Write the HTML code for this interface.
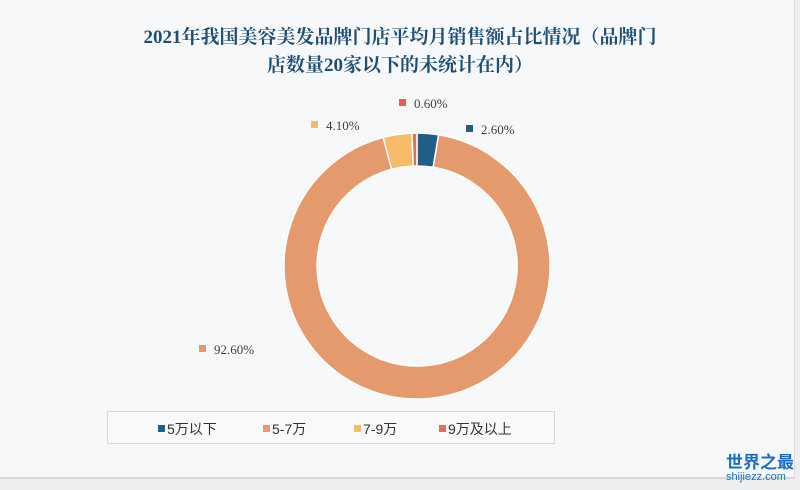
<!DOCTYPE html>
<html><head><meta charset="utf-8"><style>
body{margin:0;width:800px;height:490px;background:#eceef0;font-family:"Liberation Sans","Noto Sans CJK SC",sans-serif;overflow:hidden}
.card{position:absolute;left:0;top:0;width:794px;height:477px;background:#f7f8f9;border-right:1px solid #ddd;border-bottom:2px solid #d8d8d8}
.t{position:absolute;left:0;width:800px;text-align:center;font-family:"Liberation Serif","Noto Serif CJK SC",serif;font-weight:bold;font-size:19px;color:#1f4e79}
.lab{position:absolute;font-size:13px;color:#404040;font-family:"Liberation Serif","Noto Serif CJK SC",serif}
.sq{display:inline-block;width:7px;height:7px;margin-right:8px;vertical-align:2px}
.leg{position:absolute;left:107px;top:411px;width:446px;height:31px;border:1px solid #d8d8d8;background:#f9f9fa;font-size:14px;color:#333}
.leg span{position:absolute;top:7px}
</style></head><body>
<div class="card"></div>
<div class="t" style="top:22px">2021年我国美容美发品牌门店平均月销售额占比情况（品牌门</div>
<div class="t" style="top:50px">店数量20家以下的未统计在内）</div>
<svg width="800" height="490" style="position:absolute;left:0;top:0">
<g transform="translate(417,266)" stroke="#fff" stroke-width="1.5">
<path d="M0,-133 A133,133 0 0 1 21.6,-131.2 L16.2,-98.7 A100,100 0 0 0 0,-100Z" fill="#1f5f87"/>
<path d="M21.6,-131.2 A133,133 0 1 1 -33.8,-128.6 L-25.4,-96.7 A100,100 0 1 0 16.2,-98.7Z" fill="#e59a6e"/>
<path d="M-33.8,-128.6 A133,133 0 0 1 -5,-132.9 L-3.8,-99.9 A100,100 0 0 0 -25.4,-96.7Z" fill="#f5bb68"/>
<path d="M-5,-132.9 A133,133 0 0 1 0,-133 L0,-100 A100,100 0 0 0 -3.8,-99.9Z" fill="#e0705a"/>
</g>
</svg>
<div class="lab" style="left:399px;top:96px"><span class="sq" style="background:#e0605a"></span>0.60%</div>
<div class="lab" style="left:311px;top:118px"><span class="sq" style="background:#f5bb68"></span>4.10%</div>
<div class="lab" style="left:466px;top:122px"><span class="sq" style="background:#1f5f87"></span>2.60%</div>
<div class="lab" style="left:199px;top:342px"><span class="sq" style="background:#e59a6e"></span>92.60%</div>
<div class="leg">
<span style="left:50px"><i class="sq" style="background:#1f5f87;margin-right:2px"></i>5万以下</span>
<span style="left:155px"><i class="sq" style="background:#e59a6e;margin-right:2px"></i>5-7万</span>
<span style="left:246px"><i class="sq" style="background:#f5bb68;margin-right:2px"></i>7-9万</span>
<span style="left:331px"><i class="sq" style="background:#e0705a;margin-right:2px"></i>9万及以上</span>
</div>
<div style="position:absolute;left:726px;top:448px;font-weight:bold;font-size:17px;color:#1a6fc4;font-family:'Noto Sans CJK SC',sans-serif">世界之最</div>
<div style="position:absolute;left:726px;top:471px;font-size:11px;color:#1a6fc4">shijiezz.com</div>
</body></html>
